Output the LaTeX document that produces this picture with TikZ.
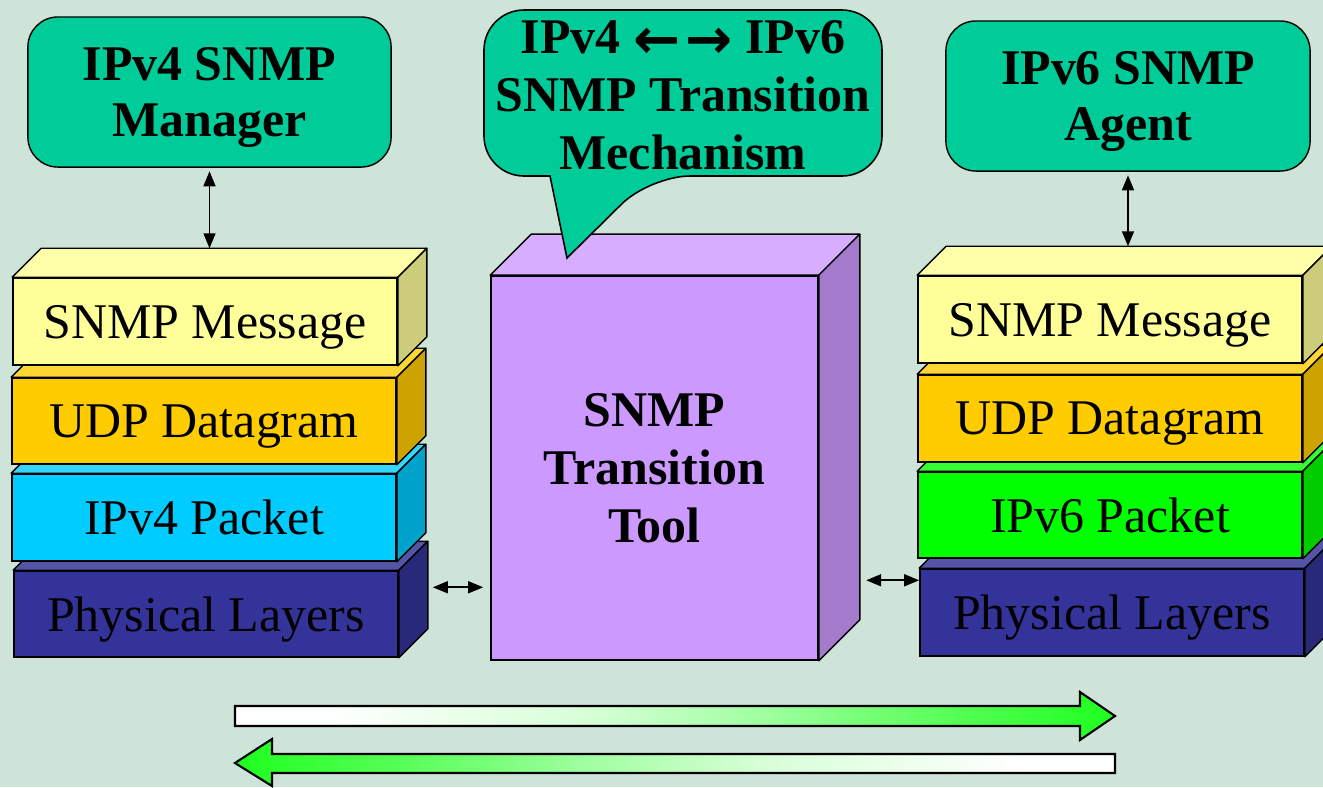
\documentclass[tikz,border=0pt]{standalone}
\usepackage{fontspec}
\setmainfont{Liberation Serif}
\newfontfamily\symfont{DejaVu Sans}
\usetikzlibrary{arrows.meta,calc}

\definecolor{bg}{RGB}{207,228,217}
\definecolor{boxteal}{RGB}{0,204,153}
\definecolor{msgF}{RGB}{255,255,153}
\definecolor{msgT}{RGB}{255,255,170}
\definecolor{msgS}{RGB}{204,204,122}
\definecolor{udpF}{RGB}{255,204,0}
\definecolor{udpT}{RGB}{255,214,51}
\definecolor{udpS}{RGB}{204,163,0}
\definecolor{vfourF}{RGB}{0,204,255}
\definecolor{vfourT}{RGB}{51,214,255}
\definecolor{vfourS}{RGB}{0,163,204}
\definecolor{vsixF}{RGB}{0,255,0}
\definecolor{vsixT}{RGB}{51,255,51}
\definecolor{vsixS}{RGB}{0,204,0}
\definecolor{phyF}{RGB}{51,51,153}
\definecolor{phyT}{RGB}{84,84,168}
\definecolor{phyS}{RGB}{41,41,122}
\definecolor{toolF}{RGB}{204,153,255}
\definecolor{toolT}{RGB}{214,173,255}
\definecolor{toolS}{RGB}{163,122,204}
\definecolor{lgA}{RGB}{215,255,215}
\definecolor{lgB}{RGB}{160,255,160}
\definecolor{lgC}{RGB}{90,255,90}
\definecolor{arrG}{RGB}{30,255,30}

% gradients for the two flow arrows (path box maps to 25bp..75bp)
\pgfdeclarehorizontalshading{flowR}{100bp}{color(0bp)=(white); color(25bp)=(white); color(30bp)=(white); color(45bp)=(lgA); color(55bp)=(lgB); color(65bp)=(lgC); color(75bp)=(arrG); color(100bp)=(arrG)}
\pgfdeclarehorizontalshading{flowL}{100bp}{color(0bp)=(arrG); color(25bp)=(arrG); color(35bp)=(lgC); color(45bp)=(lgB); color(55bp)=(lgA); color(70bp)=(white); color(75bp)=(white); color(100bp)=(white)}

% top and right faces of a 3-D slab whose front face is node #1
\newcommand\slabfaces[4]{%
  \path[fill=#2, draw=black, line width=0.4pt, line join=round]
    (#1.north west) -- ++(#4,-#4) -- ($(#1.north east)+(#4,-#4)$) -- (#1.north east) -- cycle;
  \path[fill=#3, draw=black, line width=0.4pt, line join=round]
    (#1.north east) -- ++(#4,-#4) -- ($(#1.south east)+(#4,-#4)$) -- (#1.south east) -- cycle;}

\tikzset{
  layer/.style={draw=black, line width=0.4pt, minimum width=3.84cm, minimum height=0.87cm,
    inner sep=0pt, text depth=0pt, font=\fontsize{14.2}{16}\selectfont},
  hostbox/.style={draw=black, line width=0.4pt, fill=boxteal, rounded corners=0.3cm,
    minimum width=3.63cm, minimum height=1.5cm, inner sep=0pt, align=center, text depth=0pt,
    font=\fontsize{14.2}{16}\selectfont\bfseries},
  boldtext/.style={align=center, inner sep=0pt, font=\fontsize{14.2}{16.5}\selectfont\bfseries},
  link/.style={line width=0.45pt, {Triangle[length=0.15cm,width=0.12cm]}-{Triangle[length=0.15cm,width=0.12cm]}},
  flow/.style={draw=black, line width=0.6pt, line join=miter}
}

\begin{document}
\begin{tikzpicture}[x=0.01cm, y=-0.01cm]
\fill[bg] (0,0) rectangle (1323,787);
\useasboundingbox (0,0) rectangle (1323,787);
\clip (0,0) rectangle (1323,787);

% end hosts
\node[hostbox] (mgr) at (209.5,92) {IPv4 SNMP\\Manager};
\node[hostbox, minimum width=3.64cm] (agent) at (1128,96) {IPv6 SNMP\\Agent};

% IPv4 protocol stack, drawn from the bottom up
\node[layer, fill=phyF, minimum height=0.86cm] (L1) at (206,614) {Physical Layers};
\slabfaces{L1}{phyT}{phyS}{29}
\node[layer, fill=vfourF] (L2) at (204,517.5) {IPv4 Packet};
\slabfaces{L2}{vfourT}{vfourS}{29}
\node[layer, fill=udpF, minimum height=0.86cm] (L3) at (204,421) {UDP Datagram};
\slabfaces{L3}{udpT}{udpS}{29}
\node[layer, fill=msgF] (L4) at (205,321.5) {SNMP Message};
\slabfaces{L4}{msgT}{msgS}{29}

% IPv6 protocol stack
\node[layer, fill=phyF] (R1) at (1112,612.5) {Physical Layers};
\slabfaces{R1}{phyT}{phyS}{29}
\node[layer, fill=vsixF, minimum height=0.86cm] (R2) at (1110,515) {IPv6 Packet};
\slabfaces{R2}{vsixT}{vsixS}{29}
\node[layer, fill=udpF] (R3) at (1110,418.5) {UDP Datagram};
\slabfaces{R3}{udpT}{udpS}{29}
\node[layer, fill=msgF] (R4) at (1110,319.5) {SNMP Message};
\slabfaces{R4}{msgT}{msgS}{29}

% transition tool block
\node[draw=black, line width=0.4pt, fill=toolF, minimum width=3.27cm, minimum height=3.84cm,
  inner sep=0pt, boldtext] (tool) at (654.5,468) {SNMP\\Transition\\Tool};
\slabfaces{tool}{toolT}{toolS}{41}

% speech bubble over the tool
\path[fill=boxteal, draw=black, line width=0.45pt]
  (550,176) [rounded corners=0.4cm] -- (484,176) -- (484,10) -- (882,10) -- (882,176) -- (650,176)
  [sharp corners] -- (567,258) -- cycle;
\node[boldtext] (mech) at (683,95)
  {IPv4 {\symfont\fontsize{16}{16}\selectfont\raisebox{-1.5pt}{←\kern1.5pt→}} IPv6\\SNMP Transition\\Mechanism};

% host-to-stack links
\coordinate (l4b) at ($(L4.north west)+(29,-29)$);
\draw[link, shorten <=1pt] (mgr.south) -- (mgr.south |- l4b);
\coordinate (r4b) at ($(R4.north west)+(29,-29)$);
\draw[link, shorten <=1pt] (agent.south) -- (agent.south |- r4b);

% physical links to the tool
\coordinate (pl) at ($(L1.north east)+(34,17)$);
\draw[link, shorten >=2pt] (pl) -- (pl -| tool.west);
\coordinate (pr) at ($(R1.north west)+(-53,12)$);
\draw[link] (pr) -- (pr -| R1.west);

% traffic direction arrows
\shadedraw[flow, shading=flowR]
  (235,706) -- (1080,706) -- (1080,692) -- (1115,716) -- (1080,740) -- (1080,726) -- (235,726) -- cycle;
\shadedraw[flow, shading=flowL]
  (1115,754) -- (272,754) -- (272,739) -- (235,763) -- (272,786) -- (272,773) -- (1115,773) -- cycle;
\end{tikzpicture}
\end{document}
